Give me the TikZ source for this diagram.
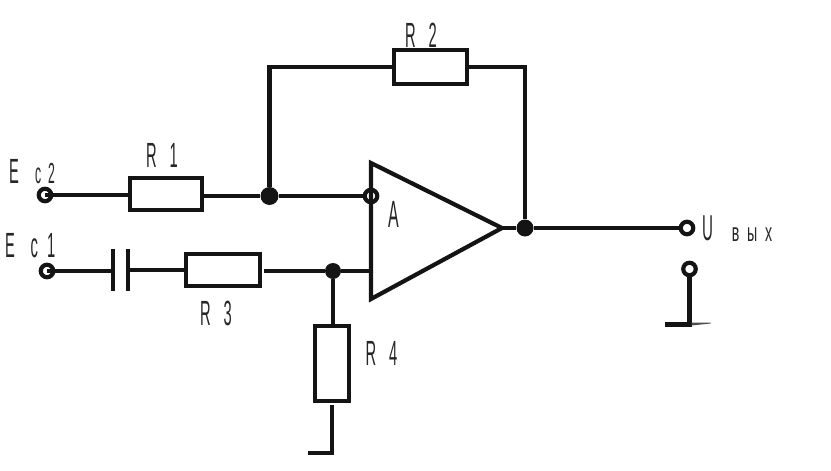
\documentclass[tikz,border=0pt]{standalone}
\usepackage{fontspec}
\usepackage{graphicx}
\setmainfont[FakeStretch=0.42]{Liberation Sans}
\usetikzlibrary{calc}
\tikzset{
  wire/.style={line width=4.2pt,black!92},
  res/.style={draw=black!92,line width=4pt,fill=white,inner sep=0pt,minimum width=#1},
  res/.default=72pt,
  term/.style={circle,draw=black!92,line width=4.2pt,fill=white,inner sep=0pt,minimum size=12.5pt},
  junc/.style={circle,fill=black!92,inner sep=0pt,minimum size=17pt},
  lab/.style={inner sep=0pt,anchor=base,font=\fontsize{35}{35}\selectfont,text=black!85},
  sublab/.style={inner sep=0pt,anchor=base,font=\fontsize{29}{29}\selectfont,text=black!85}
}
\begin{document}
\begin{tikzpicture}[x=1pt,y=-1pt]
\useasboundingbox (0,0) rectangle (831,471);
% resistors
\node[res=72pt,minimum height=32pt] (r1) at (166,193.5) {};
\node[res=73pt,minimum height=34pt] (r2) at (430.5,67) {};
\node[res=74pt,minimum height=32pt] (r3) at (223,270) {};
\node[res=34pt,minimum height=75pt] (r4) at (332,363.5) {};
% terminals and junctions
\node[term] (ec2) at (45,195) {};
\node[term] (ec1) at (47,271) {};
\node[term] (inv) at (371,196) {};
\node[term] (uo) at (687,228) {};
\node[term] (ug) at (689.5,269) {};
\node[junc,minimum size=18pt] (j1) at (269.5,196) {};
\node[junc,minimum size=16pt] (j2) at (333,271) {};
\node[junc] (j3) at (525,228) {};
% amplifier
\coordinate (ta) at (371,163);
\coordinate (tb) at (371,299);
\coordinate (tc) at (502,228);
\draw[wire] (ta) -- (tc) -- (tb) -- cycle;
\coordinate (c1) at (113,270);
\coordinate (c2) at (128,270);
\coordinate (g1) at (332,453);
\coordinate (g2) at (689.5,324.5);
% connectors
\draw[wire] (ec2.center) -- (ec2.center -| r1.west);
\draw[wire] (j1 -| r1.east) -- (j1) -- (inv.west);
\draw[wire] (j1) |- (r2.west);
\draw[wire] (r2.east) -| (j3);
\draw[wire] (j3) -- (tc);
\draw[wire] (j3) -- (uo.west);
\draw[wire] (ec1.center) -- (ec1.center -| c1);
\draw[wire] (c2) -- (r3.west);
\draw[wire] ($(j2 -| r3.east)+(2,0)$) -- (j2) -- (j2 -| ta);
\draw[wire] (j2) -- (j2 |- r4.north);
\draw[wire] ($(r4.south)+(0,2)$) -- (g1);
\draw[wire] (ug.south) -- (g2);
% capacitor
\draw[line width=4pt,black!92] ($(c1)+(0,-21)$) -- ($(c1)+(0,21)$);
\draw[line width=4pt,black!92] ($(c2)+(0,-21)$) -- ($(c2)+(0,21)$);
% grounds
\draw[wire] ($(g1)+(-24,0)$) -- ($(g1)+(2,0)$);
\draw[wire] ($(g2)+(-24.5,0)$) -- ($(g2)+(2,0)$);
\fill[black!70] ($(g2)+(2,-2)$) -- ++(19,0) -- ++(0,1) -- ++(-19,2) -- cycle;
% labels
\node[lab] (l1) at (162,167) {R\hspace{13pt}1};
\node[lab] (l2) at (421,47) {R\hspace{13pt}2};
\node[lab] (l3) at (216,325) {R\hspace{13pt}3};
\node[lab] (l4) at (381.5,365) {R\hspace{13pt}4};
\node[lab,font=\fontsize{38}{38}\selectfont] (la) at (394,227) {A};
\node[lab] (e2) at (14,183) {E};
\node[sublab] (e2s) at (45,183) {c\hspace{7pt}2};
\node[lab] (e1) at (10,257) {E};
\node[lab] (e1s) at (43,257) {c\hspace{9pt}1};
\node[lab,font=\fontsize{36}{36}\selectfont] (u) at (707.5,240) {U};
\node[lab,font=\fontsize{26}{26}\selectfont] (vyx) at (752,241) {\scalebox{1.3}[1]{в\hspace{6pt}ы\hspace{6pt}х}};
\end{tikzpicture}
\end{document}
